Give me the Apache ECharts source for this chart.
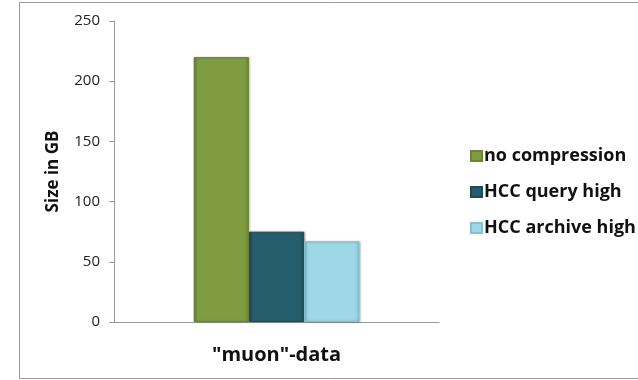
<!DOCTYPE html>
<html>
<head>
<meta charset="utf-8">
<script src="https://cdn.jsdelivr.net/npm/echarts@6/dist/echarts.min.js"></script>
<style>
  html, body { margin: 0; padding: 0; background: #fff; }
  #chart { width: 638px; height: 380px; }
</style>
</head>
<body>
<div id="chart"></div>
<script>
// Storage size of the "muon" dataset under different compression modes
const categories = ['"muon"-data'];
const seriesNames = ['no compression', 'HCC query high', 'HCC archive high'];
const noCompression = [220];
const hccQueryHigh = [75];
const hccArchiveHigh = [67];
const yTicks = [0, 50, 100, 150, 200, 250];

const colors = ['#7f9c42', '#265d6c', '#9ed7e7'];
const borders = ['#6a8534', '#1d4b58', '#86c2d3'];
const values = [noCompression, hccQueryHigh, hccArchiveHigh];

const font = '"Open Sans", Lato, sans-serif';

const chart = echarts.init(document.getElementById('chart'), null, { renderer: 'canvas' });

chart.setOption({
  animation: false,
  backgroundColor: '#fff',
  graphic: [{
    type: 'rect',
    shape: { x: 19.5, y: 2.5, width: 640, height: 376 },
    style: { fill: 'none', stroke: '#999', lineWidth: 1 },
    silent: true
  }],
  grid: { left: 114, right: 199, top: 21, bottom: 58 },
  legend: {
    orient: 'vertical',
    left: 465,
    top: 142,
    itemWidth: 11,
    itemHeight: 10,
    itemGap: 18,
    icon: 'rect',
    data: seriesNames,
    textStyle: { fontFamily: font, fontWeight: 'bold', fontSize: 18, color: '#111', padding: [0, 0, 0, -3] }
  },
  xAxis: {
    type: 'category',
    data: categories,
    axisLine: { lineStyle: { color: '#999', width: 1 } },
    axisTick: { show: false },
    axisLabel: { margin: 23, fontFamily: font, fontWeight: 'bold', fontSize: 20, color: '#111' }
  },
  yAxis: {
    type: 'value',
    min: yTicks[0],
    max: yTicks[yTicks.length - 1],
    interval: yTicks[1] - yTicks[0],
    name: 'Size in GB',
    nameLocation: 'middle',
    nameRotate: 90,
    nameGap: 52,
    nameTextStyle: { fontFamily: font, fontWeight: 'bold', fontSize: 17, color: '#111' },
    axisLine: { show: true, lineStyle: { color: '#999', width: 1 } },
    axisTick: { show: true, inside: false, length: 5, lineStyle: { color: '#999' } },
    splitLine: { show: false },
    axisLabel: { margin: 14, fontFamily: font, fontSize: 15, color: '#222' }
  },
  series: seriesNames.map((name, i) => ({
    name: name,
    type: 'bar',
    data: values[i],
    barGap: '0%',
    barCategoryGap: '49%',
    itemStyle: {
      color: new echarts.graphic.LinearGradient(0, 0, 1, 0, [
        { offset: 0, color: borders[i] },
        { offset: 0.08, color: colors[i] },
        { offset: 0.92, color: colors[i] },
        { offset: 1, color: borders[i] }
      ]),
      borderColor: borders[i],
      borderWidth: 1,
      shadowColor: 'rgba(0,0,0,0.25)',
      shadowBlur: 2,
      shadowOffsetX: 1
    }
  }))
});
</script>
</body>
</html>
